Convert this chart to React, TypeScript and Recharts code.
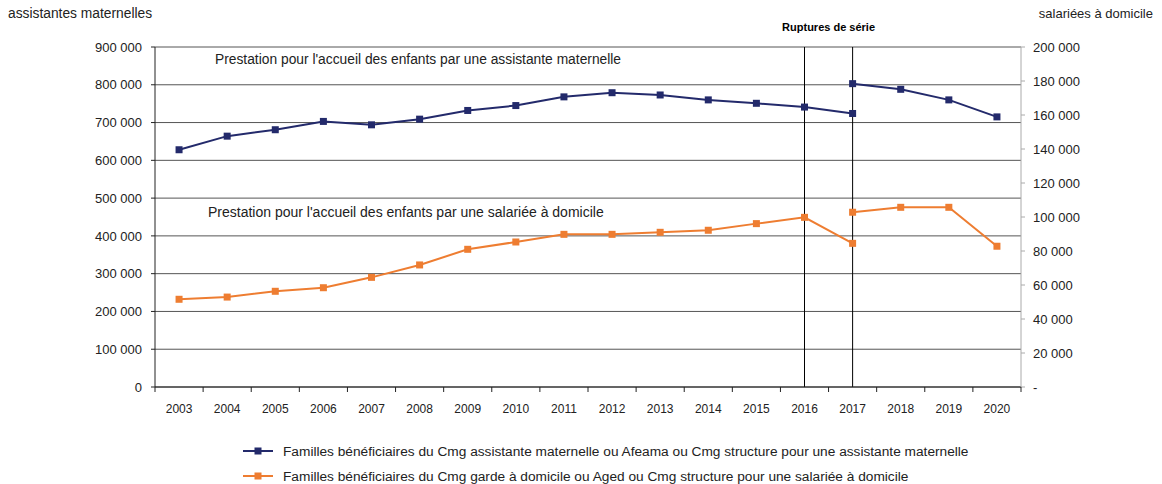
import React from 'react';
import { ComposedChart, Line, XAxis, YAxis, CartesianGrid, ReferenceLine } from 'recharts';

const years = ['2003','2004','2005','2006','2007','2008','2009','2010','2011','2012','2013','2014','2015','2016','2017','2018','2019','2020'];
const assmatOld: (number | null)[] = [628000, 664000, 681000, 703000, 694000, 709000, 732000, 745000, 768000, 779000, 773000, 760000, 751000, 741000, 724000, null, null, null];
const assmatNew: (number | null)[] = [null, null, null, null, null, null, null, null, null, null, null, null, null, null, 803000, 788000, 760000, 715000];
const salOld: (number | null)[] = [51600, 52900, 56300, 58400, 64500, 71800, 81000, 85300, 89800, 89800, 91000, 92200, 96100, 99800, 84500, null, null, null];
const salNew: (number | null)[] = [null, null, null, null, null, null, null, null, null, null, null, null, null, null, 102800, 105700, 105700, 82800];
const leftTicks = [0, 100000, 200000, 300000, 400000, 500000, 600000, 700000, 800000, 900000];
const rightTicks = [0, 20000, 40000, 60000, 80000, 100000, 120000, 140000, 160000, 180000, 200000];
const ruptureYears = ['2016', '2017'];

const legendBlue = 'Familles bénéficiaires du Cmg assistante maternelle ou Afeama ou Cmg structure pour une assistante maternelle';
const legendOrange = 'Familles bénéficiaires du Cmg garde à domicile ou Aged ou Cmg structure pour une salariée à domicile';

const data = years.map((y, i) => ({
  year: y,
  assmatOld: assmatOld[i],
  assmatNew: assmatNew[i],
  salOld: salOld[i],
  salNew: salNew[i],
}));

const BLUE = '#232a6b';
const ORANGE = '#ee7d31';
const FONT = '"Liberation Sans", Arial, sans-serif';

const W = 1162;
const H = 484;
const LEFT_W = 155;
const RIGHT_W = 141;
const PLOT_W = W - LEFT_W - RIGHT_W;
const HALF_BAND = PLOT_W / years.length / 2;

const fmt = (v: number) => String(v).replace(/\B(?=(\d{3})+(?!\d))/g, ' ');

const squareDot = (color: string) => (props: any) => {
  const { cx, cy, index, value } = props;
  if (cx == null || cy == null || value == null) return <g key={`e-${index}`} />;
  return <rect key={`d-${index}`} x={cx - 3.5} y={cy - 3.5} width={7} height={7} fill={color} />;
};

const XTick = (props: any) => {
  const { x, y, payload, index } = props;
  const last = index === years.length - 1;
  return (
    <g>
      <line x1={x - HALF_BAND} x2={x - HALF_BAND} y1={y} y2={y + 5} stroke="#222" strokeWidth={1} />
      {last && <line x1={x + HALF_BAND} x2={x + HALF_BAND} y1={y} y2={y + 5} stroke="#222" strokeWidth={1} />}
      <text x={x} y={y + 26} textAnchor="middle" fontSize={12} fill="#222" fontFamily={FONT}>
        {payload.value}
      </text>
    </g>
  );
};

const LegendRow = ({ color, label, top }: { color: string; label: string; top: number }) => (
  <div style={{ position: 'absolute', left: 243, top, height: 16, display: 'flex', alignItems: 'center', whiteSpace: 'nowrap' }}>
    <svg width={40} height={16}>
      <line x1={0} x2={30} y1={8} y2={8} stroke={color} strokeWidth={2} />
      <rect x={11.5} y={4.5} width={7} height={7} fill={color} />
    </svg>
    <span style={{ fontSize: 13.7, color: '#222', fontFamily: FONT }}>{label}</span>
  </div>
);

export default function App() {
  return (
    <div style={{ position: 'absolute', left: 0, top: 0, width: W, height: H, background: '#fff', fontFamily: FONT }}>
      <ComposedChart width={W} height={H} data={data} margin={{ top: 47, right: 0, bottom: 0, left: 0 }}>
        <CartesianGrid vertical={false} yAxisId="left" stroke="#555" ticks={leftTicks} />
        <XAxis
          dataKey="year"
          height={97}
          padding={{ left: HALF_BAND, right: HALF_BAND }}
          axisLine={{ stroke: '#222' }}
          tickLine={false}
          tickSize={0}
          tickMargin={0}
          tick={<XTick />}
          interval={0}
        />
        <YAxis
          yAxisId="left"
          orientation="left"
          width={LEFT_W}
          domain={[0, 900000]}
          ticks={leftTicks}
          tickFormatter={fmt}
          axisLine={{ stroke: '#222' }}
          tickLine={{ stroke: '#222' }}
          tickSize={4}
          tickMargin={9}
          tick={{ fontSize: 13, fill: '#222', fontFamily: FONT }}
          interval={0}
        />
        <YAxis
          yAxisId="right"
          orientation="right"
          width={RIGHT_W}
          domain={[0, 200000]}
          ticks={rightTicks}
          tickFormatter={(v: number) => (v === 0 ? '-' : fmt(v))}
          axisLine={{ stroke: '#aaa' }}
          tickLine={{ stroke: '#aaa' }}
          tickSize={4}
          tickMargin={8}
          tick={{ fontSize: 13, fill: '#222', fontFamily: FONT, textAnchor: 'start' }}
          interval={0}
        />
        {ruptureYears.map((y, i) => (
          <ReferenceLine
            key={y}
            x={y}
            yAxisId="left"
            stroke="#000"
            strokeWidth={1}
            label={i === 0 ? { value: 'Ruptures de série', position: 'top', dx: HALF_BAND, offset: 16, fill: '#000', fontSize: 11, fontWeight: 'bold', fontFamily: FONT } : undefined}
          />
        ))}
        <Line yAxisId="left" dataKey="assmatOld" stroke={BLUE} strokeWidth={2} dot={squareDot(BLUE)} isAnimationActive={false} connectNulls={false} />
        <Line yAxisId="left" dataKey="assmatNew" stroke={BLUE} strokeWidth={2} dot={squareDot(BLUE)} isAnimationActive={false} connectNulls={false} />
        <Line yAxisId="right" dataKey="salOld" stroke={ORANGE} strokeWidth={2} dot={squareDot(ORANGE)} isAnimationActive={false} connectNulls={false} />
        <Line yAxisId="right" dataKey="salNew" stroke={ORANGE} strokeWidth={2} dot={squareDot(ORANGE)} isAnimationActive={false} connectNulls={false} />
      </ComposedChart>
      <div style={{ position: 'absolute', left: 8, top: 6, fontSize: 13.8, color: '#222', whiteSpace: 'nowrap' }}>assistantes maternelles</div>
      <div style={{ position: 'absolute', right: 9, top: 6, fontSize: 13, color: '#222', whiteSpace: 'nowrap' }}>salariées à domicile</div>
      <div style={{ position: 'absolute', left: 215, top: 52, fontSize: 13.8, color: '#222', whiteSpace: 'nowrap' }}>
        Prestation pour l'accueil des enfants par une assistante maternelle
      </div>
      <div style={{ position: 'absolute', left: 208, top: 204, fontSize: 14, color: '#222', whiteSpace: 'nowrap' }}>
        Prestation pour l'accueil des enfants par une salariée à domicile
      </div>
      <LegendRow color={BLUE} label={legendBlue} top={443} />
      <LegendRow color={ORANGE} label={legendOrange} top={468} />
    </div>
  );
}
